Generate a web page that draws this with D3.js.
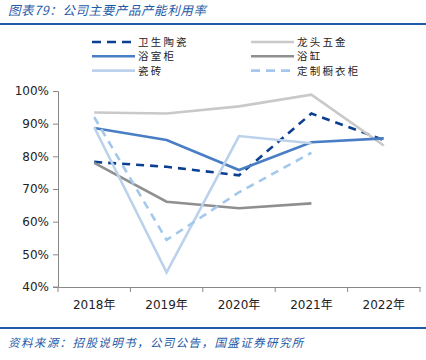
<!DOCTYPE html>
<html>
<head>
<meta charset="utf-8">
<script src="https://cdn.jsdelivr.net/npm/d3@7"></script>
<style>
body { margin: 0; background: #fff; }
svg { display: block; font-family: "Noto Sans CJK SC", "DejaVu Sans", sans-serif; }
</style>
</head>
<body>
<div id="chart"></div>
<script>
var svgWidth = 426;
var svgHeight = 360;

// categories and series
var years = ["2018年", "2019年", "2020年", "2021年", "2022年"];
var weisheng = [78.3, 76.8, 74.2, 93.1, 85.0]; // 卫生陶瓷
var longtou = [93.4, 93.1, 95.3, 98.9, 83.3]; // 龙头五金
var yushigui = [88.7, 85.0, 75.8, 84.3, 85.5]; // 浴室柜
var yugang = [78.0, 66.1, 64.1, 65.6]; // 浴缸
var cizhuan = [88.9, 44.5, 86.2, 84.0]; // 瓷砖
var chuyigui = [92.0, 54.4, 69.0, 81.1]; // 定制橱衣柜
var yTicks = [40, 50, 60, 70, 80, 90, 100];

var series = [
    { name: "卫生陶瓷", values: weisheng, color: "#0b3f91", dash: "8,6" },
    { name: "龙头五金", values: longtou, color: "#c9c9c9", dash: null },
    { name: "浴室柜", values: yushigui, color: "#4a7ec4", dash: null },
    { name: "浴缸", values: yugang, color: "#8f8f8f", dash: null },
    { name: "瓷砖", values: cizhuan, color: "#bcd2ec", dash: null },
    { name: "定制橱衣柜", values: chuyigui, color: "#a3c8ec", dash: "8,6" }
];

var chartMargin = { top: 91, right: 6, bottom: 73, left: 58 };
var chartWidth = svgWidth - chartMargin.left - chartMargin.right;
var chartHeight = svgHeight - chartMargin.top - chartMargin.bottom;

var svg = d3.select("#chart").append("svg")
    .attr("width", svgWidth)
    .attr("height", svgHeight);

// title and rules
svg.append("text")
    .attr("x", 8).attr("y", 15)
    .attr("fill", "#1f5aa6")
    .attr("font-size", 12.5)
    .attr("font-style", "italic")
    .attr("letter-spacing", 0.6)
    .text("图表79：公司主要产品产能利用率");
svg.append("line").attr("x1", 0).attr("x2", svgWidth).attr("y1", 24).attr("y2", 24)
    .attr("stroke", "#1f5aa6").attr("stroke-width", 2);
svg.append("line").attr("x1", 0).attr("x2", svgWidth).attr("y1", 328).attr("y2", 328)
    .attr("stroke", "#1f5aa6").attr("stroke-width", 2);
svg.append("text")
    .attr("x", 8).attr("y", 347)
    .attr("fill", "#1f5aa6")
    .attr("font-size", 11.5)
    .attr("font-style", "italic")
    .attr("letter-spacing", 1.4)
    .text("资料来源：招股说明书，公司公告，国盛证券研究所");

var chartGroup = svg.append("g")
    .attr("transform", `translate(${chartMargin.left}, ${chartMargin.top})`);

var xScale = d3.scaleBand().domain(years).range([0, chartWidth]);
var yScale = d3.scaleLinear().domain([40, 100]).range([chartHeight, 0]);

// x axis
var xAxis = chartGroup.append("g")
    .attr("transform", `translate(0, ${chartHeight})`)
    .call(d3.axisBottom(xScale).tickSize(0).tickPadding(13));
xAxis.select(".domain").attr("stroke", "#888");
xAxis.selectAll("text").attr("font-size", 12).attr("fill", "#222")
    .attr("font-family", "DejaVu Sans, Noto Sans CJK SC, sans-serif");
// boundary ticks between bands
var bounds = years.map(d => xScale(d)).concat([chartWidth]);
chartGroup.selectAll(".xtick").data(bounds).enter().append("line")
    .attr("x1", d => d).attr("x2", d => d)
    .attr("y1", chartHeight).attr("y2", chartHeight + 5)
    .attr("stroke", "#888");

// y axis
var yAxis = chartGroup.append("g")
    .call(d3.axisLeft(yScale).tickValues(yTicks).tickFormat(d => d + "%").tickSize(5).tickPadding(4));
yAxis.select(".domain").attr("stroke", "#888").attr("d", `M-5,0.5H0.5V${chartHeight}H-5`);
yAxis.selectAll(".tick line").attr("stroke", "#888");
yAxis.selectAll("text").attr("font-size", 12).attr("fill", "#222")
    .attr("font-family", "DejaVu Sans, sans-serif");

// lines
var line = d3.line()
    .x((d, i) => xScale(years[i]) + xScale.bandwidth() / 2)
    .y(d => yScale(d));

chartGroup.selectAll(".series").data(series).enter().append("path")
    .attr("d", d => line(d.values))
    .attr("fill", "none")
    .attr("stroke", d => d.color)
    .attr("stroke-width", 2.6)
    .attr("stroke-dasharray", d => d.dash);

// legend, two columns
var legend = svg.append("g");
var legendItems = legend.selectAll(".leg").data(series).enter().append("g")
    .attr("transform", (d, i) => `translate(${i % 2 === 0 ? 92 : 251}, ${42 + Math.floor(i / 2) * 14.3})`);
legendItems.append("line")
    .attr("x1", 0).attr("x2", 43)
    .attr("stroke", d => d.color)
    .attr("stroke-width", 2.6)
    .attr("stroke-dasharray", d => d.dash ? "9,6" : null);
legendItems.append("text")
    .attr("x", 46).attr("y", 4)
    .attr("font-size", 10.5)
    .attr("letter-spacing", 2.2)
    .attr("fill", "#222")
    .text(d => d.name);
</script>
</body>
</html>
